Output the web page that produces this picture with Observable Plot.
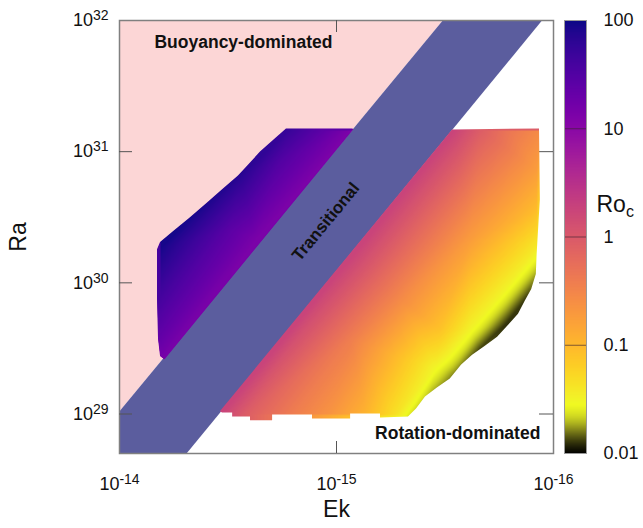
<!DOCTYPE html>
<html><head><meta charset="utf-8">
<script src="https://cdn.jsdelivr.net/npm/d3@7"></script>
<script src="https://cdn.jsdelivr.net/npm/@observablehq/plot@0.6"></script>
<style>
body{margin:0;background:#fff;}
#chart{position:relative;width:643px;height:528px;background:#fff;}
#chart svg{position:absolute;top:0;}
</style></head><body><div id="chart"></div>
<script>
// ---------- axis ticks ----------
const xTicks = [1e-14, 1e-15, 1e-16];
const xTickLabels = ["10^-14", "10^-15", "10^-16"];
const yTicks = [5e28, 1e29, 1e30, 1e31, 1e32];
const yTickLabels = ["5 10^28", "10^29", "10^30", "10^31", "10^32"];
const innerYTicks = [1e29, 1e30, 1e31];
const innerXTicks = [1e-15];
const roTicks = [0.01, 0.1, 1, 10, 100];
const roTickLabels = ["0.01", "0.1", "1", "10", "100"];
const roInnerTicks = [0.1, 1, 10];

// ---------- regions [Ek, Ra] ----------
const buoyancyRegion = [[1e-14, 1.05e29], [1e-14, 1e32], [3.24e-16, 1e32]];
const transitionalBand = [[1e-14, 5e28], [1e-14, 1.05e29], [3.24e-16, 1e32], [1.13e-16, 1e32], [4.91e-15, 5e28]];

// ---------- outlines of the two point clouds [Ek, Ra] ----------
const leftOutline = [
  [6.21e-15, 2.62e29], [8.36e-16, 1.49e31], [1.70e-15, 1.49e31], [1.97e-15, 1.20e31],
  [2.24e-15, 9.95e30], [2.49e-15, 8.20e30], [2.83e-15, 6.53e30], [3.35e-15, 5.12e30],
  [3.93e-15, 4.07e30], [4.71e-15, 3.14e30], [5.70e-15, 2.42e30], [6.47e-15, 2.03e30],
  [6.68e-15, 1.79e30], [6.68e-15, 7.48e29], [6.61e-15, 3.72e29], [6.47e-15, 2.76e29]
];
const rightOutline = [
  [3.43e-15, 1.04e29], [2.92e-16, 1.46e31], [1.16e-16, 1.49e31], [1.15e-16, 4.30e30],
  [1.19e-16, 1.64e30], [1.20e-16, 1.16e30], [1.26e-16, 8.91e29], [1.35e-16, 7.23e29],
  [1.45e-16, 5.75e29], [1.61e-16, 4.75e29], [1.81e-16, 3.85e29], [2.06e-16, 3.29e29],
  [2.36e-16, 2.81e29], [2.65e-16, 2.36e29], [2.99e-16, 1.85e29], [3.43e-16, 1.58e29],
  [3.89e-16, 1.35e29], [4.28e-16, 1.09e29], [4.66e-16, 9.51e28], [6.27e-16, 9.33e28],
  [6.27e-16, 1.00e29], [8.61e-16, 1.00e29], [8.61e-16, 9.18e28], [1.29e-15, 9.18e28],
  [1.29e-15, 9.84e28], [1.97e-15, 9.84e28], [1.97e-15, 8.87e28], [2.49e-15, 8.87e28],
  [2.49e-15, 9.51e28], [3.01e-15, 9.51e28], [3.01e-15, 1.02e29], [3.35e-15, 1.02e29]
];

const leftSamples = [
  [6.21e-15, 2.72e29, 15], [8.43e-16, 1.46e31, 13], [2.36e-15, 2.14e30, 14],
  [1.66e-15, 1.46e31, 52], [1.19e-15, 1.46e31, 27], [2.77e-15, 6.65e30, 70],
  [4.47e-15, 3.30e30, 85], [6.47e-15, 1.86e30, 91], [6.47e-15, 7.48e29, 40],
  [6.47e-15, 3.72e29, 22], [3.08e-15, 2.54e30, 26], [1.81e-15, 8.65e30, 32]
];
const leftEdgeRo = 14; // colour along the band side of the left cloud
const rightSamples = [
  [3.35e-15, 1.02e29, 1.8], [2.62e-15, 1.00e29, 0.9], [1.63e-15, 1.00e29, 0.4],
  [1.07e-15, 1.00e29, 0.22], [7.35e-16, 1.00e29, 0.11], [5.35e-16, 1.00e29, 0.045],
  [4.56e-16, 9.51e28, 0.022],
  [2.86e-16, 1.46e31, 1.8], [2.17e-16, 1.46e31, 0.9], [1.58e-16, 1.46e31, 0.45],
  [1.17e-16, 1.46e31, 0.28],
  [1.19e-16, 7.26e30, 0.18], [1.19e-16, 3.61e30, 0.09], [1.19e-16, 1.96e30, 0.04],
  [1.19e-16, 1.26e30, 0.02],
  [1.35e-16, 7.48e29, 0.013], [1.66e-16, 4.83e29, 0.0125], [2.17e-16, 3.12e29, 0.013],
  [2.83e-16, 2.02e29, 0.016], [3.69e-16, 1.42e29, 0.019],
  [1.66e-16, 8.91e29, 0.032], [2.41e-16, 4.43e29, 0.032], [3.50e-16, 2.20e29, 0.03],
  [5.07e-16, 7.48e29, 0.28], [2.41e-16, 2.14e30, 0.18], [8.61e-16, 3.72e29, 0.38],
  [3.32e-16, 4.43e29, 0.08], [8.81e-16, 1.46e30, 1.8]
];

// ---------- labels ----------
const buoyancyLabel = [{text: "Buoyancy-dominated", ek: 6.90e-15, ra: 6.81e31}];
const rotationLabel = [{text: "Rotation-dominated", ek: 1.15e-16, ra: 7.10e28}];
const transitionalLabel = [{text: "Transitional", ek: 1.12e-15, ra: 2.92e30}];

// ---------- colour map ----------
const yellowToBlack = d3.interpolateRgbBasis(["#000000", "#35350c", "#8a8c1c", "#d4dc22", "#f0f921"]);
function plasmaPart(t) {
  const v = -2 + 4 * t;
  return d3.interpolatePlasma(Math.max(0, Math.min(1, (2 - v) / 3.55)));
}
function roInterpolate(t) {
  const v = -2 + 4 * t;
  if (v >= -1.55) return plasmaPart(t);
  return yellowToBlack(Math.max(0, (v + 2) / 0.45));
}
const colorOpts = (interp) => ({type: "linear", domain: [-2, 2], interpolate: interp, clamp: true});
const leftEdgeColor = roInterpolate((Math.log10(leftEdgeRo) + 2) / 4);

const FONT = "'Liberation Sans', Arial, Helvetica, sans-serif";
const W = 643, H = 528, mL = 119, mR = 90, mT = 20, mB = 75;
const frameW = W - mL - mR, frameH = H - mT - mB;
const xLab = new Map(xTicks.map((v, i) => [v, xTickLabels[i]]));
const yLab = new Map(yTicks.map((v, i) => [v, yTickLabels[i]]));
const roLab = new Map(roTicks.map((v, i) => [v, roTickLabels[i]]));
const xDom = [1e-14, 1e-16], yDom = [5e28, 1e32];
const dims = {width: W, height: H, marginLeft: mL, marginRight: mR, marginTop: mT, marginBottom: mB};

const main = Plot.plot({
  ...dims,
  x: {type: "log", domain: xDom},
  y: {type: "log", domain: yDom},
  style: {fontFamily: FONT, fontSize: "18px", color: "#111", background: "white", overflow: "visible"},
  marks: [
    Plot.line(buoyancyRegion, {x: d => d[0], y: d => d[1], curve: "linear-closed", fill: "#fcd6d6", stroke: "none"}),
    Plot.line(transitionalBand, {x: d => d[0], y: d => d[1], curve: "linear-closed", fill: "url(#bandHatch)", stroke: "none"}),
    Plot.line(leftOutline, {x: d => d[0], y: d => d[1], curve: "linear-closed", fill: leftEdgeColor, stroke: "none"}),
    Plot.frame({stroke: "#808080", strokeWidth: 1.5}),
    Plot.tickY(innerYTicks, {y: d => d, stroke: "#555", insetRight: frameW - 13}),
    Plot.tickY(innerYTicks, {y: d => d, stroke: "#555", insetLeft: frameW - 14}),
    Plot.tickX(innerXTicks, {x: d => d, stroke: "#555", insetBottom: frameH - 12}),
    Plot.tickX(innerXTicks, {x: d => d, stroke: "#555", insetTop: frameH - 12}),
    Plot.axisY(yTicks, {anchor: "left", tickSize: 0, tickPadding: 11, tickFormat: d => yLab.get(d), label: null}),
    Plot.axisX(xTicks, {anchor: "bottom", tickSize: 0, tickPadding: 24, tickFormat: d => xLab.get(d), label: null}),
    Plot.text(["Ra"], {frameAnchor: "left", rotate: -90, dx: -101, textAnchor: "middle", lineAnchor: "middle", fontSize: 23}),
    Plot.text(["Ek"], {frameAnchor: "bottom", dy: 56, textAnchor: "middle", lineAnchor: "middle", fontSize: 23}),
    Plot.text(buoyancyLabel, {x: "ek", y: "ra", text: "text", textAnchor: "start", lineAnchor: "middle", fontWeight: "bold", fontSize: 17.5}),
    Plot.text(rotationLabel, {x: "ek", y: "ra", text: "text", textAnchor: "end", lineAnchor: "middle", fontWeight: "bold", fontSize: 17.5}),
    Plot.text(transitionalLabel, {x: "ek", y: "ra", text: "text", textAnchor: "middle", lineAnchor: "middle", fontWeight: "bold", fontSize: 17, rotate: -50.5})
  ]
});

// one transparent layer per point cloud, same scales as the main plot
function cloudLayer(samples, outline, underlayRo, interp) {
  const marks = [];
  if (underlayRo != null) {
    marks.push(Plot.line(outline, {x: d => d[0], y: d => d[1], curve: "linear-closed", fill: () => Math.log10(underlayRo), stroke: "none"}));
  }
  marks.push(Plot.raster(samples, {x: d => d[0], y: d => d[1], fill: d => Math.log10(d[2]), interpolate: "barycentric",
    x1: xDom[0], x2: xDom[1], y1: yDom[1], y2: yDom[0]}));
  return Plot.plot({
    ...dims,
    x: {type: "log", domain: xDom, axis: null},
    y: {type: "log", domain: yDom, axis: null},
    color: colorOpts(interp),
    style: {background: "transparent"},
    marks
  });
}
const leftLayer = cloudLayer(leftSamples, leftOutline, leftEdgeRo, plasmaPart);
const rightLayer = cloudLayer(rightSamples, rightOutline, null, roInterpolate);

const cbar = Plot.plot({
  width: 83, height: H, marginLeft: 4, marginRight: 57, marginTop: mT, marginBottom: mB,
  x: {domain: [0, 1], axis: null},
  y: {type: "log", domain: [0.01, 100]},
  color: colorOpts(roInterpolate),
  style: {fontFamily: FONT, fontSize: "18px", color: "#111", background: "transparent", overflow: "visible"},
  marks: [
    Plot.raster({x1: 0, x2: 1, y1: 100, y2: 0.01, fill: (x, y) => Math.log10(y), pixelSize: 1}),
    Plot.ruleY(roInnerTicks, {stroke: "#3a2030", strokeWidth: 0.8, strokeOpacity: 0.8}),
    Plot.frame({stroke: "#999"}),
    Plot.axisY(roTicks, {anchor: "right", tickSize: 0, tickPadding: 17, tickFormat: d => roLab.get(d), label: null}),
    Plot.text(["Ro_c"], {frameAnchor: "right", textAnchor: "start", lineAnchor: "middle", dx: 10, dy: -32, fontSize: 23})
  ]
});

const NS = "http://www.w3.org/2000/svg";
function el(name, attrs) {
  const e = document.createElementNS(NS, name);
  for (const k in attrs) e.setAttribute(k, attrs[k]);
  return e;
}
// hatch pattern for the transitional band
const defs = el("defs", {});
const pat = el("pattern", {id: "bandHatch", patternUnits: "userSpaceOnUse", width: 2, height: 2});
pat.appendChild(el("rect", {x: 0, y: 0, width: 2, height: 2, fill: "#2f307c"}));
pat.appendChild(el("rect", {x: 0, y: 0, width: 1, height: 1, fill: "#878abf"}));
pat.appendChild(el("rect", {x: 1, y: 1, width: 1, height: 1, fill: "#878abf"}));
defs.appendChild(pat);
main.insertBefore(defs, main.firstChild);

// clip each cloud raster to its outline (projected with the layer's own scales)
function clipLayer(svg, outline, id) {
  const sx = svg.scale("x"), sy = svg.scale("y");
  const d = "M" + outline.map(p => sx.apply(p[0]).toFixed(2) + "," + sy.apply(p[1]).toFixed(2)).join("L") + "Z";
  const dd = el("defs", {});
  const cp = el("clipPath", {id});
  cp.appendChild(el("path", {d}));
  dd.appendChild(cp);
  svg.insertBefore(dd, svg.firstChild);
  const g = svg.querySelector('g[aria-label="raster"]');
  if (g) {
    const wrap = el("g", {"clip-path": `url(#${id})`});
    g.parentNode.insertBefore(wrap, g);
    wrap.appendChild(g);
  }
}
clipLayer(leftLayer, leftOutline, "clipLeftCloud");
clipLayer(rightLayer, rightOutline, "clipRightCloud");

function scripts(svg) {
  svg.querySelectorAll("text").forEach(t => {
    if (t.querySelector("tspan")) return;
    const s = t.textContent;
    let m = s.match(/^(.*)\^(.*)$/);
    if (m) {
      t.textContent = m[1];
      const ts = el("tspan", {dy: "-6", "font-size": "14"});
      ts.textContent = m[2];
      t.appendChild(ts);
      return;
    }
    m = s.match(/^(.*)_(.*)$/);
    if (m) {
      t.textContent = m[1];
      const ts = el("tspan", {dy: "5", "font-size": "16"});
      ts.textContent = m[2];
      t.appendChild(ts);
    }
  });
}
scripts(main);
scripts(cbar);

const chart = document.getElementById("chart");
[main, leftLayer, rightLayer].forEach(s => { s.style.left = "0px"; chart.appendChild(s); });
cbar.style.left = "560px";
chart.appendChild(cbar);
</script>
</body></html>
